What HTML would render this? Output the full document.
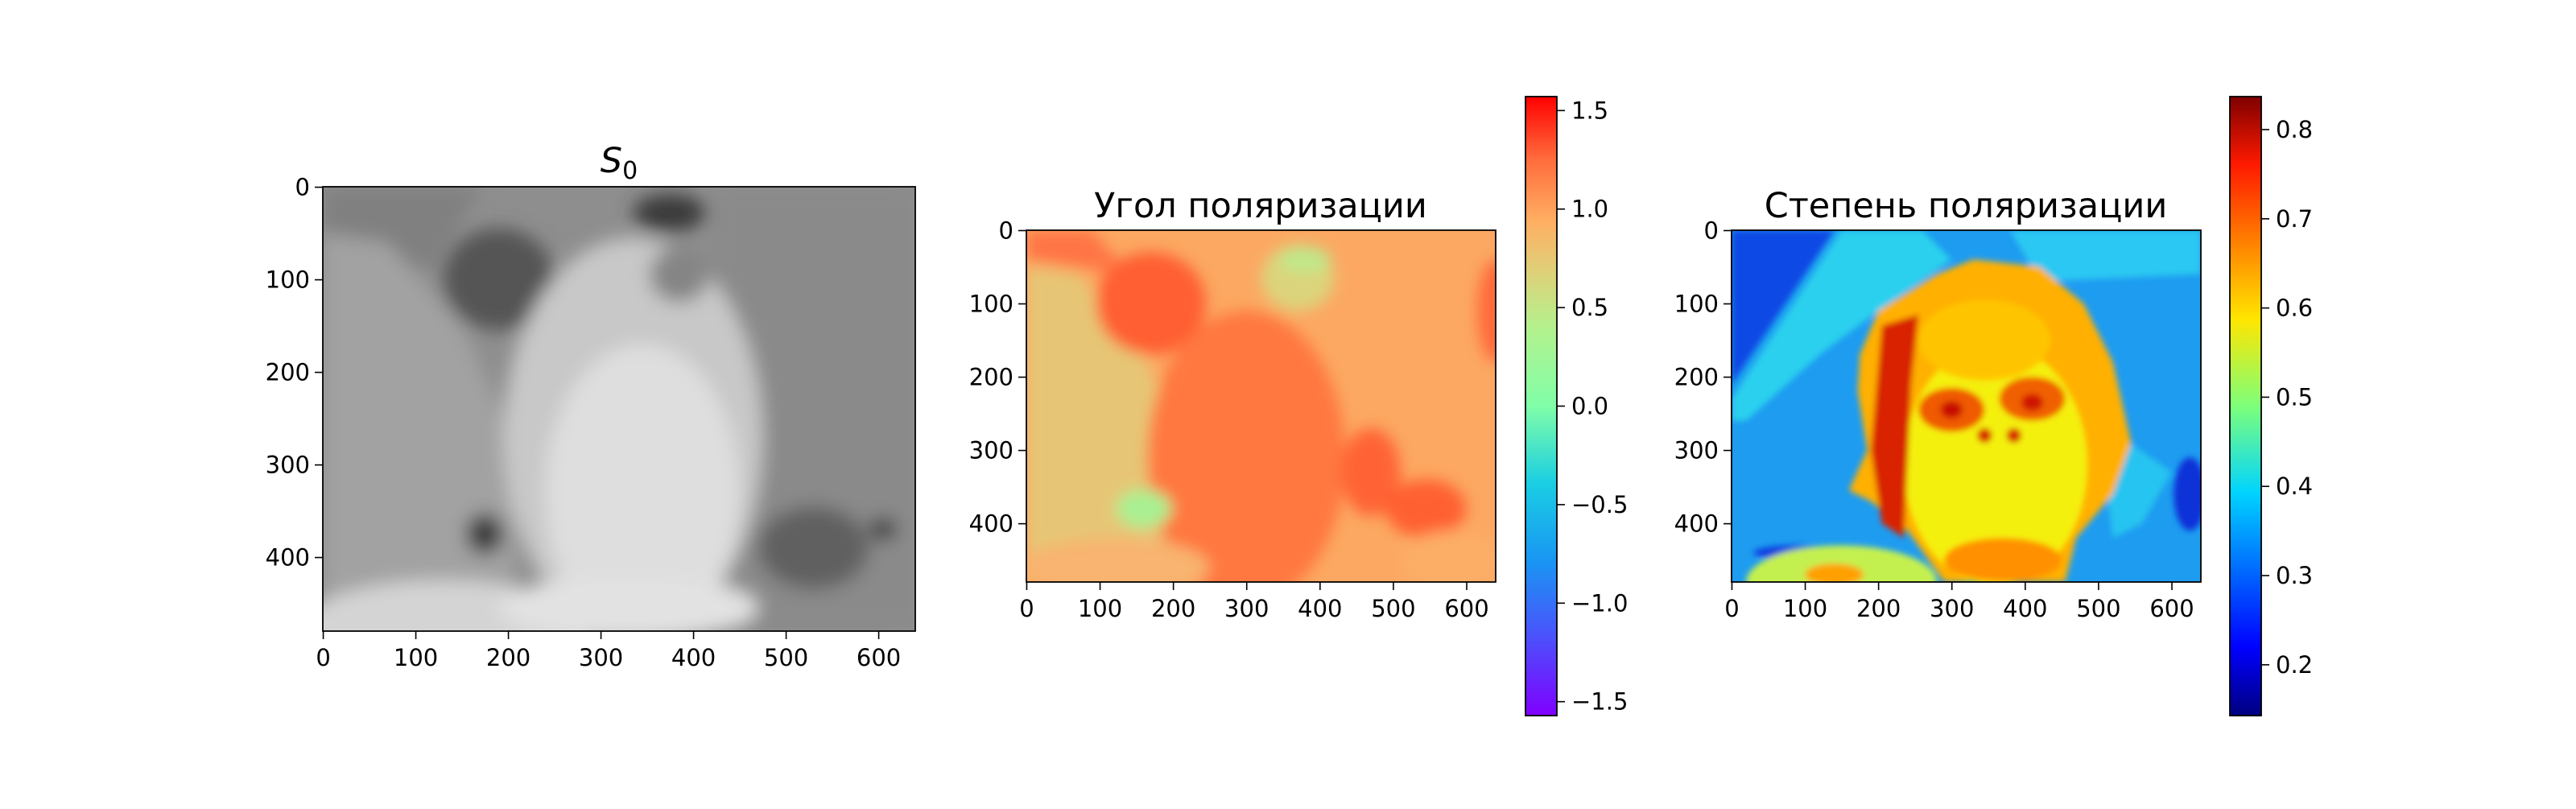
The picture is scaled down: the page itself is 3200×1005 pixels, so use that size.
<!DOCTYPE html>
<html><head><meta charset="utf-8">
<style>
html,body{margin:0;padding:0;background:#fff;}
svg text{font-family:"DejaVu Sans","Liberation Sans",sans-serif;fill:#000;}
</style></head>
<body>
<svg id="fig" width="3200" height="1000" viewBox="0 0 3200 1000" xmlns="http://www.w3.org/2000/svg">
<defs>
  <filter id="blur" x="-10%" y="-10%" width="120%" height="120%"><feGaussianBlur stdDeviation="10"/></filter>
  <filter id="blur2" x="-10%" y="-10%" width="120%" height="120%"><feGaussianBlur stdDeviation="4"/></filter>
  <linearGradient id="rainbow" x1="0" y1="1" x2="0" y2="0">
    <stop offset="0" stop-color="#8000ff"/><stop offset="0.125" stop-color="#4c50fc"/>
    <stop offset="0.25" stop-color="#1996f3"/><stop offset="0.375" stop-color="#1acee3"/>
    <stop offset="0.5" stop-color="#80fea8"/><stop offset="0.625" stop-color="#b3f28e"/>
    <stop offset="0.72" stop-color="#e0cf78"/><stop offset="0.8" stop-color="#ffae62"/>
    <stop offset="0.9" stop-color="#ff6b3c"/><stop offset="1" stop-color="#ff0000"/>
  </linearGradient>
  <linearGradient id="jet" x1="0" y1="1" x2="0" y2="0">
    <stop offset="0" stop-color="#00007f"/><stop offset="0.11" stop-color="#0000ff"/>
    <stop offset="0.36" stop-color="#00d4ff"/><stop offset="0.5" stop-color="#7dff7a"/>
    <stop offset="0.64" stop-color="#ffe600"/><stop offset="0.89" stop-color="#ff1a00"/>
    <stop offset="1" stop-color="#7f0000"/>
  </linearGradient>
</defs>

<!-- Panel 1: S0 grayscale image -->
<g>
  <text x="769" y="214" font-size="43" text-anchor="middle"><tspan font-style="italic">S</tspan><tspan font-size="30" dy="8">0</tspan></text>
  <svg x="401" y="232" width="736" height="552" viewBox="0 0 640 480" preserveAspectRatio="none">
    <rect width="640" height="480" fill="#8e8e8e"/>
    <g filter="url(#blur)">
      <rect x="420" y="0" width="220" height="480" fill="#8a8a8a"/>
      <polygon points="0,0 170,0 120,90 0,60" fill="#808080"/>
      <polygon points="0,50 70,60 150,150 200,260 210,480 0,480" fill="#a2a2a2"/>
      <ellipse cx="190" cy="100" rx="60" ry="55" fill="#555"/>
      <ellipse cx="375" cy="28" rx="40" ry="20" fill="#3a3a3a"/>
      <ellipse cx="335" cy="270" rx="140" ry="215" fill="#c8c8c8"/>
      <ellipse cx="345" cy="330" rx="105" ry="160" fill="#dedede"/>
      <ellipse cx="385" cy="95" rx="32" ry="30" fill="#858585"/>
      <ellipse cx="530" cy="390" rx="60" ry="45" fill="#606060"/>
      <ellipse cx="605" cy="370" rx="15" ry="12" fill="#3a3a3a"/>
      <ellipse cx="175" cy="375" rx="20" ry="22" fill="#3a3a3a"/>
      <ellipse cx="130" cy="480" rx="160" ry="55" fill="#d4d4d4"/>
      <ellipse cx="330" cy="455" rx="140" ry="35" fill="#e2e2e2"/>
    </g>
  </svg>
  <rect x="401" y="232" width="736" height="552" fill="none" stroke="#000" stroke-width="1.8"/>
  <g id="ax1"></g>
</g>

<!-- Panel 2: polarization angle -->
<g>
  <text x="1566" y="270" font-size="43" text-anchor="middle">Угол поляризации</text>
  <svg x="1275" y="286" width="583" height="437" viewBox="0 0 640 480" preserveAspectRatio="none">
    <rect width="640" height="480" fill="#fca862"/>
    <g filter="url(#blur)">
      <polygon points="0,0 90,0 140,60 0,40" fill="#ff7444"/>
      <polygon points="0,50 70,60 150,150 200,260 210,480 0,480" fill="#e6c676"/>
      <ellipse cx="170" cy="100" rx="75" ry="70" fill="#ff5e33"/>
      <ellipse cx="300" cy="310" rx="135" ry="200" fill="#ff7840"/>
      <ellipse cx="470" cy="330" rx="40" ry="60" fill="#ff6434"/>
      <ellipse cx="545" cy="380" rx="55" ry="40" fill="#ff6032"/>
      <ellipse cx="640" cy="110" rx="25" ry="70" fill="#ff6a3a"/>
      <ellipse cx="370" cy="65" rx="50" ry="45" fill="#dcd47c"/>
      <ellipse cx="380" cy="40" rx="35" ry="18" fill="#bfe88a"/>
      <ellipse cx="160" cy="380" rx="38" ry="26" fill="#a8f092"/>
      <ellipse cx="120" cy="460" rx="130" ry="40" fill="#f8b470"/>
      <ellipse cx="580" cy="450" rx="70" ry="40" fill="#fcae66"/>
    </g>
  </svg>
  <rect x="1275" y="286" width="583" height="437" fill="none" stroke="#000" stroke-width="1.8"/>
  <g id="ax2"></g>
  <rect x="1895" y="120" width="39" height="769" fill="url(#rainbow)" stroke="#000" stroke-width="1.8"/>
  <g id="cb2"></g>
</g>

<!-- Panel 3: degree of polarization -->
<g>
  <text x="2442" y="270" font-size="43" text-anchor="middle">Степень поляризации</text>
  <svg x="2151" y="286" width="583" height="437" viewBox="0 0 640 480" preserveAspectRatio="none">
    <rect width="640" height="480" fill="#1e9cf0"/>
    <g filter="url(#blur2)">
      <polygon points="380,0 640,0 640,60 420,70" fill="#2cc8f2"/>
      <polygon points="150,0 260,0 300,40 200,110 120,170 20,260 0,260 0,230" fill="#2ad0ee"/>
      <polygon points="0,0 140,0 0,210" fill="#0c48e4"/>
      <polygon points="500,260 600,330 560,400 520,420" fill="#25c4f0"/>
      <ellipse cx="625" cy="360" rx="22" ry="50" fill="#0a30d8"/>
      <ellipse cx="90" cy="440" rx="60" ry="10" fill="#0c3ee0"/>
      <polygon points="175,170 200,110 280,60 330,40 420,50 480,100 520,180 545,290 520,360 470,420 455,480 290,480 240,410 190,370 160,355 185,300 172,220" fill="#ffb000"/>
      <ellipse cx="360" cy="320" rx="125" ry="165" fill="#f4f010"/>
      <ellipse cx="345" cy="150" rx="90" ry="55" fill="#ffc400"/>
      <polygon points="205,130 255,115 245,210 235,420 205,400 190,300" fill="#d82000"/>
      <ellipse cx="300" cy="245" rx="45" ry="30" fill="#f05a00"/>
      <ellipse cx="410" cy="230" rx="45" ry="30" fill="#f06000"/>
      <ellipse cx="300" cy="245" rx="15" ry="12" fill="#c81000"/>
      <ellipse cx="410" cy="235" rx="15" ry="12" fill="#d01800"/>
      <ellipse cx="345" cy="280" rx="10" ry="10" fill="#d82000"/>
      <ellipse cx="385" cy="280" rx="10" ry="10" fill="#d82000"/>
      <ellipse cx="370" cy="450" rx="80" ry="30" fill="#ff9000"/>
      <ellipse cx="150" cy="480" rx="130" ry="50" fill="#c4f050"/>
      <ellipse cx="140" cy="470" rx="40" ry="15" fill="#ffa000"/>
    </g>
  </svg>
  <rect x="2151" y="286" width="583" height="437" fill="none" stroke="#000" stroke-width="1.8"/>
  <g id="ax3"></g>
  <rect x="2770" y="120" width="39" height="769" fill="url(#jet)" stroke="#000" stroke-width="1.8"/>
  <g id="cb3"></g>
</g>
</svg>

<script>
const xTicks = [0, 100, 200, 300, 400, 500, 600];
const yTicks = [0, 100, 200, 300, 400];
const imgWidth = 640;
const imgHeight = 480;
const angleTicks = [-1.5, -1.0, -0.5, 0.0, 0.5, 1.0, 1.5];
const angleRange = [-1.5708, 1.5708];
const degreeTicks = [0.2, 0.3, 0.4, 0.5, 0.6, 0.7, 0.8];
const degreeRange = [0.143, 0.837];

const NS = 'http://www.w3.org/2000/svg';
function mk(tag, attrs, parent) {
  const e = document.createElementNS(NS, tag);
  for (const k in attrs) e.setAttribute(k, attrs[k]);
  parent.appendChild(e);
  return e;
}
function fmt(v) {
  const s = v.toFixed(1);
  return v < 0 ? '\u2212' + s.slice(1) : s;
}
function drawAxes(gid, L, T, W, H) {
  const g = document.getElementById(gid);
  const sx = v => L + (v + 0.5) * W / imgWidth;
  const sy = v => T + (v + 0.5) * H / imgHeight;
  xTicks.forEach(v => {
    const x = sx(v);
    const t = mk('line', {x1: x, y1: T + H, x2: x, y2: T + H + 10, stroke: '#000', 'stroke-width': 1.6}, g);
    
    
    const lb = mk('text', {x: x, y: T + H + 43, 'font-size': 29, 'text-anchor': 'middle'}, g);
    lb.textContent = String(v);
    
    
  });
  yTicks.forEach(v => {
    const y = sy(v);
    const t = mk('line', {x1: L - 10, y1: y, x2: L, y2: y, stroke: '#000', 'stroke-width': 1.6}, g);
    
    
    const lb = mk('text', {x: L - 16, y: y + 10, 'font-size': 29, 'text-anchor': 'end'}, g);
    lb.textContent = String(v);
    
    
  });
}
function drawColorbar(gid, X, T, W, H, ticks, range) {
  const g = document.getElementById(gid);
  const sy = v => T + H - (v - range[0]) / (range[1] - range[0]) * H;
  ticks.forEach(v => {
    const y = sy(v);
    const t = mk('line', {x1: X + W, y1: y, x2: X + W + 10, y2: y, stroke: '#000', 'stroke-width': 1.6}, g);
    
    
    const lb = mk('text', {x: X + W + 18, y: y + 10, 'font-size': 29}, g);
    lb.textContent = fmt(v);
    
    
  });
}
drawAxes('ax1', 401, 232, 736, 552);
drawAxes('ax2', 1275, 286, 583, 437);
drawAxes('ax3', 2151, 286, 583, 437);
drawColorbar('cb2', 1895, 120, 39, 769, angleTicks, angleRange);
drawColorbar('cb3', 2770, 120, 39, 769, degreeTicks, degreeRange);
</script>
</body></html>
